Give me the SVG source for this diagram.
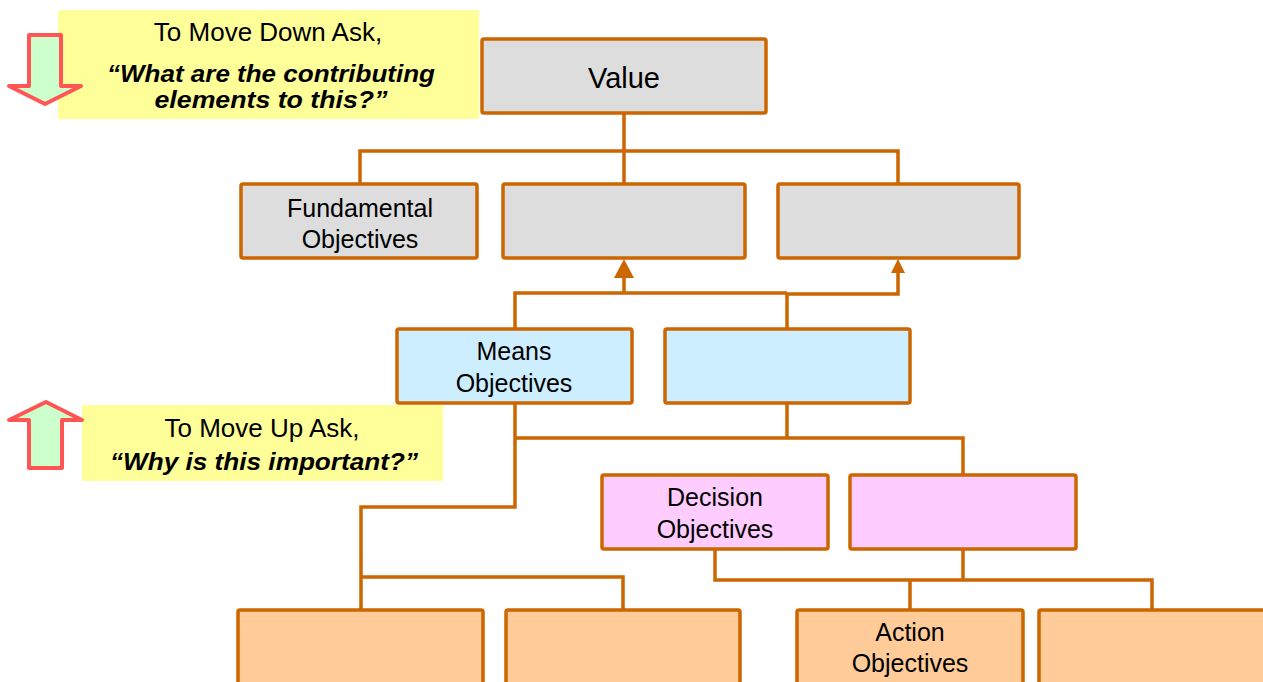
<svg xmlns="http://www.w3.org/2000/svg" width="1263" height="682" viewBox="0 0 1263 682">
<style>
.box{stroke:#cc6600;stroke-width:3.5;stroke-linejoin:round}
.g{fill:#dddddd}.b{fill:#cceeff}.p{fill:#ffccff}.o{fill:#ffcc99}
.t{font-family:"Liberation Sans",Arial,sans-serif;font-size:25px;fill:#000;text-anchor:middle}
.v{font-size:29px}
.q{font-family:"Liberation Sans",Arial,sans-serif;font-size:26px;fill:#000;text-anchor:middle}
.qb{font-weight:bold;font-style:italic;font-size:23px}
.c{fill:none;stroke:#cc6600;stroke-width:3.5;stroke-linejoin:miter}
.ar{fill:#ccffcc;stroke:#ff5555;stroke-width:4;stroke-linejoin:round}
</style>
<rect width="1263" height="682" fill="#ffffff"/>
<g id="connectors">
<path class="c" d="M624,113V151M360,184V151H898V184M624,151V184"/>
<path class="c" d="M515,329V293H787M787,329V293M787,294H898V272"/>
<path class="c" d="M624,293V276"/>
<polygon points="624,259 614,278 634,278" fill="#cc6600"/>
<polygon points="898,259 891,273 905,273" fill="#cc6600"/>
<path class="c" d="M515,403V507H361V610M361,577H623V610M515,438H963V475M787,403V438"/>
<path class="c" d="M715,549V580H1152V610M963,549V580M910,580V610"/>
</g>
<g id="hint-down">
<rect x="58" y="10" width="421" height="109" fill="#ffff99"/>
<polygon class="ar" points="29,35 61,35 61,86 81,86 45,104 9,86 29,86"/>
<text class="q" x="268" y="41">To Move Down Ask,</text>
<text class="q qb" x="271" y="81.5" textLength="328" lengthAdjust="spacingAndGlyphs">“What are the contributing</text>
<text class="q qb" x="271" y="107.5" textLength="233" lengthAdjust="spacingAndGlyphs">elements to this?”</text>
</g>
<g id="hint-up">
<rect x="82" y="405" width="361" height="76" fill="#ffff99"/>
<polygon class="ar" points="29,468 62,468 62,420 82,420 46,402 9,420 29,420"/>
<text class="q" x="262" y="437">To Move Up Ask,</text>
<text class="q qb" x="264" y="470" textLength="308" lengthAdjust="spacingAndGlyphs">“Why is this important?”</text>
</g>
<g id="value"><rect class="box g" x="482" y="39" width="284" height="74" rx="2"/><text class="t v" x="624" y="88">Value</text></g>
<g id="fund1"><rect class="box g" x="241" y="184" width="236" height="74" rx="2"/><text class="t" x="360" y="217">Fundamental</text><text class="t" x="360" y="248">Objectives</text></g>
<g id="fund2"><rect class="box g" x="503" y="184" width="242" height="74" rx="2"/></g>
<g id="fund3"><rect class="box g" x="778" y="184" width="241" height="74" rx="2"/></g>
<g id="means1"><rect class="box b" x="397" y="329" width="235" height="74" rx="2"/><text class="t" x="514" y="360">Means</text><text class="t" x="514" y="392">Objectives</text></g>
<g id="means2"><rect class="box b" x="665" y="329" width="245" height="74" rx="2"/></g>
<g id="dec1"><rect class="box p" x="602" y="475" width="226" height="74" rx="2"/><text class="t" x="715" y="506">Decision</text><text class="t" x="715" y="538">Objectives</text></g>
<g id="dec2"><rect class="box p" x="850" y="475" width="226" height="74" rx="2"/></g>
<g id="act1"><rect class="box o" x="238" y="610" width="245" height="90" rx="2"/></g>
<g id="act2"><rect class="box o" x="506" y="610" width="234" height="90" rx="2"/></g>
<g id="act3"><rect class="box o" x="797" y="610" width="226" height="90" rx="2"/><text class="t" x="910" y="641">Action</text><text class="t" x="910" y="672">Objectives</text></g>
<g id="act4"><rect class="box o" x="1039" y="610" width="240" height="90" rx="2"/></g>
</svg>
